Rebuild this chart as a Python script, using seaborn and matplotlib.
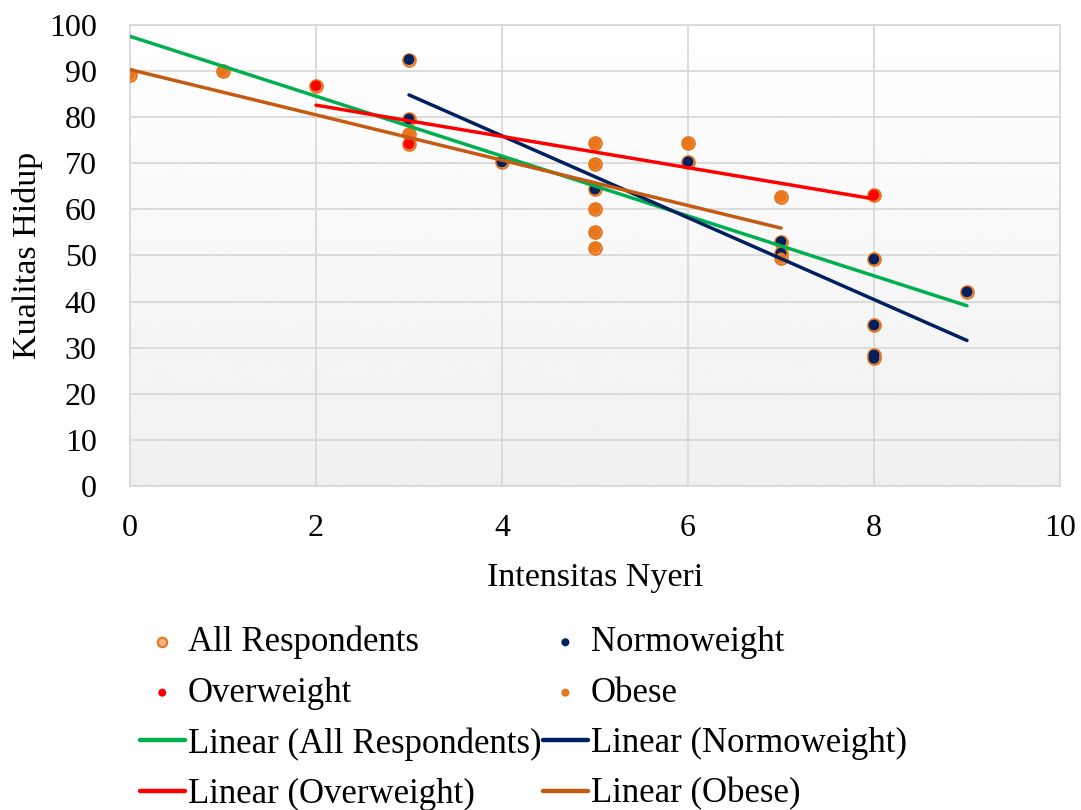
import numpy as np
import pandas as pd
import matplotlib
matplotlib.use("Agg")
import matplotlib.pyplot as plt
import seaborn as sns

# data
normo_x = [3, 3, 4, 5, 6, 7, 7, 8, 8, 8, 8, 9]
normo_y = [92.5, 79.6, 70.3, 64.4, 70.3, 53.0, 50.5, 49.2, 34.9, 28.4, 27.7, 42.1]
over_x = [2, 3, 8]
over_y = [86.8, 74.2, 63.1]
obese_x = [0, 1, 3, 5, 5, 5, 5, 5, 6, 7, 7]
obese_y = [89.2, 90.0, 76.3, 74.3, 69.8, 60.1, 55.0, 51.7, 74.3, 62.7, 49.5]

groups = ["Normoweight", "Overweight", "Obese"]
colors = {"Normoweight": "#002060", "Overweight": "#FF0000", "Obese": "#E8761C"}
line_colors = {"All Respondents": "#00B050", "Normoweight": "#002060",
               "Overweight": "#FF0000", "Obese": "#C55A11"}

df = pd.concat([
    pd.DataFrame({"x": normo_x, "y": normo_y, "group": "Normoweight"}),
    pd.DataFrame({"x": over_x, "y": over_y, "group": "Overweight"}),
    pd.DataFrame({"x": obese_x, "y": obese_y, "group": "Obese"}),
], ignore_index=True)

sns.set_style("white")
plt.rcParams["font.family"] = ["Liberation Serif", "DejaVu Serif"]
plt.rcParams["text.color"] = "black"
plt.rcParams["axes.labelcolor"] = "black"
plt.rcParams["xtick.color"] = "black"
plt.rcParams["ytick.color"] = "black"

fig = plt.figure(figsize=(10.81, 8.10), dpi=100)
ax = fig.add_axes([130 / 1081, 1 - 486 / 810, 930 / 1081, 461 / 810])

# light gradient in plot area
grad = np.linspace(1.0, 0.94, 256).reshape(-1, 1)
ax.imshow(grad, cmap="gray", vmin=0, vmax=1, aspect="auto",
          extent=[0, 1, 0, 1], transform=ax.transAxes, zorder=0)

ax.scatter(df["x"], df["y"], s=82, color="#F4B183", edgecolor="#E8761C",
           linewidth=1.5, zorder=3, label="All Respondents")
for g in groups:
    sub = df[df["group"] == g]
    sns.scatterplot(data=sub, x="x", y="y", ax=ax, s=60, color=colors[g],
                    edgecolor="none", zorder=4, label=g)

sns.regplot(data=df, x="x", y="y", ax=ax, scatter=False, ci=None, truncate=True,
            line_kws={"color": line_colors["All Respondents"], "lw": 2.5, "zorder": 5},
            label="Linear (All Respondents)")
for g in groups:
    sub = df[df["group"] == g]
    sns.regplot(data=sub, x="x", y="y", ax=ax, scatter=False, ci=None, truncate=True,
                line_kws={"color": line_colors[g], "lw": 2.5, "zorder": 5},
                label=f"Linear ({g})")

if ax.get_legend() is not None:
    ax.get_legend().remove()

ax.set_xlim(0, 10)
ax.set_ylim(0, 100)
ax.set_xticks(range(0, 11, 2))
ax.set_yticks(range(0, 101, 10))
ax.grid(True, color="#d9d9d9", lw=1.3, zorder=1)
ax.set_axisbelow(True)
for sp in ax.spines.values():
    sp.set_color("#d9d9d9")
    sp.set_linewidth(1.3)
ax.tick_params(axis="both", length=0, labelsize=23)
ax.tick_params(axis="y", pad=24)
ax.tick_params(axis="x", pad=20)
ax.set_xlabel("Intensitas Nyeri", fontsize=24.5, labelpad=14)
ax.set_ylabel("Kualitas Hidup", fontsize=24.5, labelpad=4)

h, l = ax.get_legend_handles_labels()
lookup = dict(zip(l, h))
order = ["All Respondents", "Overweight", "Linear (All Respondents)", "Linear (Overweight)",
         "Normoweight", "Obese", "Linear (Normoweight)", "Linear (Obese)"]
leg = fig.legend([lookup[k] for k in order], order, loc="center", ncol=2,
                 bbox_to_anchor=(0.484, 0.113), frameon=False, fontsize=25,
                 handlelength=1.3, handletextpad=0.08, columnspacing=0.05,
                 labelspacing=0.5, markerscale=0.75)
for line in leg.get_lines():
    line.set_linewidth(3.2)

fig.savefig("out.png", dpi=100)
